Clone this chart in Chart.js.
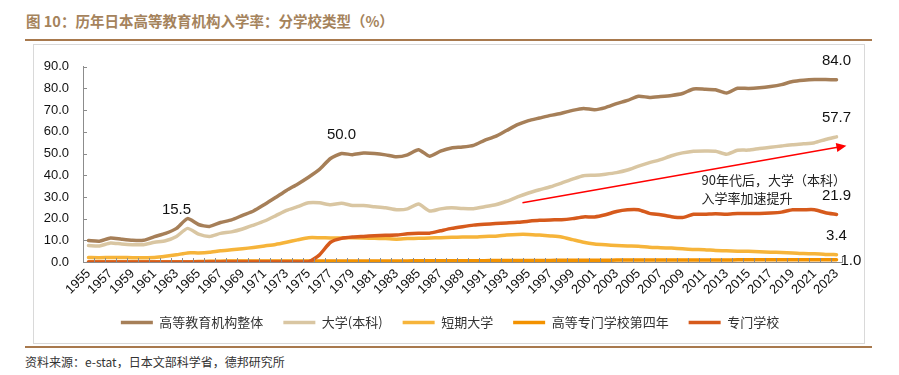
<!DOCTYPE html>
<html>
<head>
<meta charset="utf-8">
<script src="https://cdn.jsdelivr.net/npm/chart.js@4.4.0/dist/chart.umd.min.js"></script>
<style>
  body { margin: 0; width: 899px; height: 375px; background: #fff; position: relative; overflow: hidden; font-family: "Noto Sans CJK SC", sans-serif; }
  #title { position: absolute; left: 26px; top: 10px; font-family: "Noto Sans CJK SC", sans-serif; font-size: 14.5px; font-weight: bold; color: #a5835c; white-space: nowrap; }
  .rule { position: absolute; left: 25px; width: 847px; height: 2px; background: #a8794d; }
  #box { position: absolute; left: 33px; top: 44px; width: 830px; height: 298px; border: 1px solid #d9d9d9; }
  #source { position: absolute; left: 25px; top: 353px; font-size: 12px; color: #333; white-space: nowrap; }
</style>
</head>
<body>
<div id="title">图 10：历年日本高等教育机构入学率：分学校类型（%）</div>
<div class="rule" style="top:39px"></div>
<div id="box"><canvas id="rateChart" width="830" height="298"></canvas></div>
<div class="rule" style="top:346px"></div>
<div id="source">资料来源：e-stat，日本文部科学省，德邦研究所</div>
<script>
var years = ['1955','1956','1957','1958','1959','1960','1961','1962','1963','1964',
  '1965','1966','1967','1968','1969','1970','1971','1972','1973','1974',
  '1975','1976','1977','1978','1979','1980','1981','1982','1983','1984',
  '1985','1986','1987','1988','1989','1990','1991','1992','1993','1994',
  '1995','1996','1997','1998','1999','2000','2001','2002','2003','2004',
  '2005','2006','2007','2008','2009','2010','2011','2012','2013','2014',
  '2015','2016','2017','2018','2019','2020','2021','2022','2023']

// 高等教育机构整体
var totalRate = [9.9, 9.6, 11.1, 10.5, 10.0, 10.0, 11.7, 13.2, 15.5, 20.0,
  17.3, 16.4, 18.2, 19.4, 21.5, 23.5, 26.5, 29.7, 33.0, 35.9,
  39.1, 42.7, 47.7, 50.0, 49.5, 50.2, 50.0, 49.4, 48.5, 49.4,
  51.8, 48.8, 51.1, 52.6, 53.0, 53.8, 56.1, 57.9, 60.6, 63.3,
  65.2, 66.4, 67.6, 68.6, 69.9, 70.8, 70.2, 71.2, 73.0, 74.5,
  76.4, 75.9, 76.3, 76.8, 77.7, 79.8, 79.7, 79.4, 77.9, 80.1,
  80.0, 80.3, 80.9, 81.8, 83.2, 83.8, 84.1, 84.1, 84.0]
// 大学(本科)
var universityRate = [7.6, 7.4, 8.8, 8.3, 8.0, 8.0, 9.1, 9.8, 11.8, 15.5,
  12.9, 11.8, 13.2, 13.9, 15.2, 17.0, 18.9, 21.3, 23.8, 25.5,
  27.3, 27.3, 26.4, 27.1, 26.1, 26.0, 25.5, 25.0, 24.1, 24.5,
  26.7, 23.5, 24.5, 25.0, 24.7, 24.6, 25.5, 26.4, 28.0, 30.0,
  31.8, 33.3, 34.7, 36.4, 38.2, 39.8, 40.0, 40.5, 41.2, 42.4,
  44.2, 45.8, 47.2, 49.0, 50.3, 51.1, 51.2, 51.1, 49.7, 51.5,
  51.6, 52.3, 52.9, 53.5, 54.1, 54.5, 55.0, 56.5, 57.7]
// 短期大学
var juniorCollegeRate = [2.1, 2.0, 2.1, 2.1, 2.0, 2.0, 2.1, 2.6, 3.3, 4.2,
  4.2, 4.5, 5.2, 5.6, 6.1, 6.7, 7.4, 8.1, 9.1, 10.2,
  11.2, 11.2, 11.1, 11.1, 11.2, 11.1, 10.9, 10.8, 10.5, 10.8,
  10.9, 11.1, 11.2, 11.4, 11.5, 11.5, 11.8, 11.9, 12.4, 12.7,
  12.7, 12.4, 12.0, 11.5, 10.3, 9.1, 8.3, 7.9, 7.6, 7.4,
  7.3, 6.8, 6.6, 6.4, 6.1, 5.8, 5.7, 5.3, 5.2, 5.0,
  4.9, 4.7, 4.5, 4.4, 4.2, 3.9, 3.8, 3.5, 3.4]
// 高等专门学校第四年
var techCollegeRate = [0, 0, 0, 0, 0, 0, 0, 0, 0, 0,
  0.2, 0.3, 0.4, 0.5, 0.5, 0.5, 0.5, 0.5, 0.5, 0.5,
  0.5, 0.5, 0.5, 0.5, 0.5, 0.5, 0.5, 0.5, 0.5, 0.5,
  0.6, 0.6, 0.6, 0.6, 0.6, 0.6, 0.6, 0.7, 0.7, 0.7,
  0.7, 0.7, 0.7, 0.8, 0.8, 0.8, 0.8, 0.8, 0.9, 0.9,
  0.9, 0.9, 0.9, 0.9, 0.9, 0.9, 0.9, 0.9, 0.9, 1.0,
  1.0, 1.0, 1.0, 1.0, 1.0, 1.0, 1.0, 1.0, 1.0]
// 专门学校
var specialSchoolRate = [0, 0, 0, 0, 0, 0, 0, 0, 0, 0,
  0, 0, 0, 0, 0, 0, 0, 0, 0, 0,
  0, 3.3, 9.1, 10.9, 11.5, 11.8, 12.1, 12.3, 12.4, 13.0,
  13.3, 13.3, 14.4, 15.5, 16.3, 17.0, 17.4, 17.7, 18.0, 18.3,
  18.8, 19.2, 19.4, 19.5, 20.0, 20.8, 20.8, 21.8, 23.3, 24.1,
  24.1, 22.4, 21.8, 20.9, 20.5, 22.0, 22.0, 22.3, 22.0, 22.4,
  22.4, 22.4, 22.6, 23.0, 24.1, 24.1, 24.1, 22.7, 21.9]

var seriesNames = ['高等教育机构整体', '大学(本科)', '短期大学', '高等专门学校第四年', '专门学校']
var seriesColors = ['#a67f58', '#d9c6a2', '#f6b43a', '#f39200', '#d65a1c']

// which points carry a value label
var labelledPoints = [
  { set: 0, year: '1963' }, { set: 0, year: '1978' }, { set: 0, year: '2023' },
  { set: 1, year: '2023' }, { set: 4, year: '2023' }, { set: 2, year: '2023' },
  { set: 3, year: '2023', side: 'right' }
]
var noteLines = ['90年代后，大学（本科）', '入学率加速提升']

var axisFont = { family: '"Liberation Sans", Arial, sans-serif', size: 13 }

var tickMarks = {
  id: 'tickMarks',
  afterDraw: function(chart) {
    var ctx = chart.ctx
    var xs = chart.scales.x, ys = chart.scales.y
    ctx.save()
    ctx.strokeStyle = '#8c8c8c'
    ctx.lineWidth = 1
    ctx.beginPath()
    ys.ticks.forEach(function(t, i) {
      var py = Math.round(ys.getPixelForTick(i)) + 0.5
      ctx.moveTo(ys.right, py)
      ctx.lineTo(ys.right + 4, py)
    })
    for (var i = 0; i <= years.length; i++) {
      var px = Math.round(xs.getPixelForValue(i - 0.5)) + 0.5
      ctx.moveTo(px, xs.top)
      ctx.lineTo(px, xs.top - 4)
    }
    ctx.stroke()
    ctx.restore()
  }
}

// legend rows carry trailing padding, so nudge the block back to centre
var legendShift = {
  id: 'legendShift',
  afterLayout: function(chart) {
    chart.legend.left += 12
    chart.legend.right += 12
  }
}

var valueLabels = {
  id: 'valueLabels',
  afterDatasetsDraw: function(chart) {
    var ctx = chart.ctx
    ctx.save()
    ctx.font = '15px "Liberation Sans", Arial, sans-serif'
    ctx.fillStyle = '#111'
    labelledPoints.forEach(function(p) {
      var idx = years.indexOf(p.year)
      var pt = chart.getDatasetMeta(p.set).data[idx]
      var txt = chart.data.datasets[p.set].data[idx].toFixed(1)
      ctx.textBaseline = 'middle'
      if (p.side === 'right') {
        ctx.textAlign = 'left'
        ctx.fillText(txt, pt.x + 4, pt.y + 1)
      } else {
        ctx.textAlign = 'center'
        ctx.fillText(txt, pt.x, pt.y - 19)
      }
    })
    ctx.restore()
  }
}

var trendNote = {
  id: 'trendNote',
  afterDatasetsDraw: function(chart) {
    var ctx = chart.ctx
    var xs = chart.scales.x, ys = chart.scales.y
    var x0 = xs.getPixelForValue(39.45), y0 = ys.getPixelForValue(27.3)
    var x1 = xs.getPixelForValue(68.9), y1 = ys.getPixelForValue(53.6)
    var ang = Math.atan2(y1 - y0, x1 - x0)
    ctx.save()
    ctx.strokeStyle = '#ff0000'
    ctx.fillStyle = '#ff0000'
    ctx.lineWidth = 1.5
    ctx.beginPath()
    ctx.moveTo(x0, y0)
    ctx.lineTo(x1 - 9 * Math.cos(ang), y1 - 9 * Math.sin(ang))
    ctx.stroke()
    ctx.beginPath()
    ctx.moveTo(x1, y1)
    ctx.lineTo(x1 - 10 * Math.cos(ang) + 4.5 * Math.sin(ang), y1 - 10 * Math.sin(ang) - 4.5 * Math.cos(ang))
    ctx.lineTo(x1 - 10 * Math.cos(ang) - 4.5 * Math.sin(ang), y1 - 10 * Math.sin(ang) + 4.5 * Math.cos(ang))
    ctx.closePath()
    ctx.fill()
    ctx.font = '13px "Noto Sans CJK SC", sans-serif'
    ctx.fillStyle = '#222'
    ctx.textAlign = 'left'
    ctx.textBaseline = 'middle'
    var tx = xs.getPixelForValue(years.indexOf('2011')) - 3
    ctx.fillText(noteLines[0], tx, ys.getPixelForValue(37.7))
    ctx.fillText(noteLines[1], tx, ys.getPixelForValue(29.4))
    ctx.restore()
  }
}

var seriesData = [totalRate, universityRate, juniorCollegeRate, techCollegeRate, specialSchoolRate]
var datasets = seriesData.map(function(values, i) {
  return {
    label: seriesNames[i],
    data: values,
    borderColor: seriesColors[i],
    backgroundColor: seriesColors[i],
    borderWidth: 3.5,
    borderCapStyle: 'round',
    pointRadius: 0,
    tension: 0.2,
    order: 4 - i
  }
})

var rateChart = new Chart(document.getElementById('rateChart'), {
  type: 'line',
  data: { labels: years, datasets: datasets },
  options: {
    responsive: false,
    animation: false,
    layout: { padding: { top: 17, right: 22, left: 0, bottom: 4 } },
    scales: {
      x: {
        offset: true,
        grid: { display: false, drawTicks: false },
        border: { display: true, color: '#8c8c8c', width: 1 },
        ticks: {
          autoSkip: false, minRotation: 45, maxRotation: 45, padding: 4,
          color: '#111', font: axisFont,
          callback: function(v, i) { return i % 2 === 0 ? years[i] : '' }
        },
        afterFit: function(s) { s.height = 34 }
      },
      y: {
        min: 0, max: 90,
        grid: { display: false, drawTicks: false },
        border: { display: true, color: '#8c8c8c', width: 1 },
        ticks: {
          stepSize: 10, padding: 14, color: '#111', font: axisFont,
          callback: function(v) { return v.toFixed(1) }
        },
        afterFit: function(s) { s.width = 49 }
      }
    },
    plugins: {
      legend: {
        position: 'bottom',
        labels: {
          usePointStyle: true, pointStyle: 'line', pointStyleWidth: 32, boxHeight: 10,
          padding: 20, color: '#333',
          font: { family: '"Noto Sans CJK SC", sans-serif', size: 13 },
          sort: function(a, b) { return a.datasetIndex - b.datasetIndex }
        }
      },
      tooltip: { enabled: false }
    }
  },
  plugins: [tickMarks, legendShift, valueLabels, trendNote]
})
</script>
</body>
</html>
